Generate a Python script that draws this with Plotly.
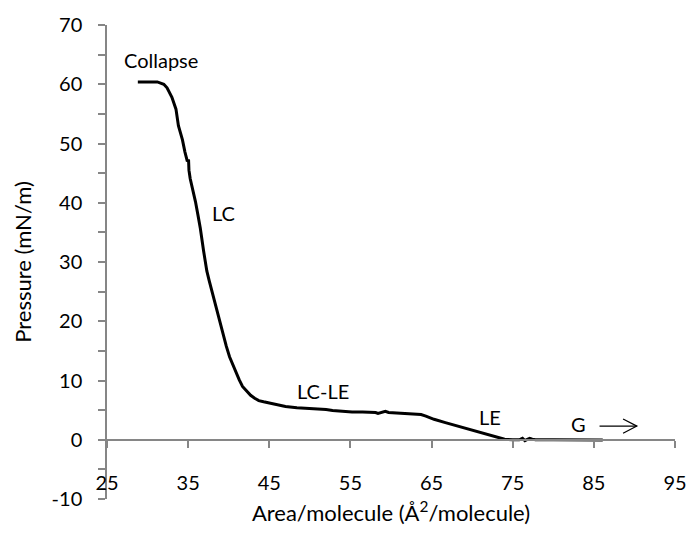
import plotly.graph_objects as go

area = [28.8, 31.2, 32.0, 32.4, 33.0, 33.5, 33.8, 34.3, 34.6, 34.9, 35.05, 35.1, 35.25, 35.6,
        35.9, 36.2, 36.5, 36.9, 37.3, 37.6, 37.9, 38.3, 38.7, 39.3, 39.7, 40.1, 40.5, 40.9,
        41.3, 41.7, 42.2, 42.7, 43.2, 43.7, 44.3, 44.9, 45.9, 47.0, 48.4, 50.0, 51.2, 52.0,
        52.8, 54.0, 55.2, 56.5, 57.6, 58.1, 58.4, 58.8, 59.3, 59.7, 61.0, 62.9, 63.7, 64.3,
        65.3, 66.7, 68.1, 69.2, 70.2, 71.2, 72.2, 73.1, 74.0, 75.0, 75.8, 76.2, 76.5, 76.8,
        77.1, 77.4, 77.8, 80.0, 83.0, 86.1]
pressure = [60.4, 60.4, 60.0, 59.4, 57.8, 55.8, 53.0, 50.6, 48.6, 47.0, 47.3, 45.5, 44.1, 42.2,
            40.2, 38.0, 35.7, 31.9, 28.5, 26.8, 25.2, 22.8, 20.7, 17.7, 15.8, 14.0, 12.6, 11.3,
            10.1, 9.0, 8.2, 7.5, 7.0, 6.6, 6.4, 6.2, 5.85, 5.6, 5.4, 5.3, 5.2, 5.1,
            4.95, 4.8, 4.7, 4.7, 4.7, 4.6, 4.45, 4.6, 4.8, 4.6, 4.5, 4.4, 4.25, 4.0,
            3.45, 2.9, 2.35, 1.9, 1.5, 1.15, 0.8, 0.45, 0.1, 0.0, 0.0, 0.25, -0.15, 0.05,
            0.25, 0.1, 0.0, 0.0, -0.05, -0.05]

y_tick_vals = [-10, 0, 10, 20, 30, 40, 50, 60, 70]
y_tick_text = ["-10", "0", "10", "20", "30", "40", "50", "60", "70"]

phase_labels = ["Collapse", "LC", "LC-LE", "LE", "G"]
phase_x = [31.6, 39.4, 51.6, 72.2, 83.1]
phase_y = [64.1, 38.2, 8.2, 3.9, 2.6]

FONT = "Lato, Carlito, Calibri, sans-serif"
AXIS_COLOR = "#868686"

fig = go.Figure()
fig.add_trace(go.Scatter(x=area, y=pressure, mode="lines",
                         line=dict(color="black", width=3), showlegend=False,
                         hoverinfo="skip"))

annotations = []
for t, x, y in zip(phase_labels, phase_x, phase_y):
    annotations.append(dict(x=x, y=y, text=t, showarrow=False,
                            font=dict(family=FONT, size=20, color="black")))

# arrow pointing right next to "G"
shapes = [
    dict(type="line", x0=85.7, y0=2.3, x1=90.3, y1=2.3, line=dict(color="black", width=1.2)),
    dict(type="path", path="M 88.6,3.5 L 90.3,2.3 L 88.6,1.1", line=dict(color="black", width=1.2)),
]

fig.update_layout(
    width=699, height=533,
    margin=dict(l=107, r=14, t=22, b=32),
    paper_bgcolor="white", plot_bgcolor="white",
    font=dict(family=FONT, size=20, color="black"),
    annotations=annotations,
    shapes=shapes,
    xaxis=dict(
        range=[25, 95], dtick=10, tick0=25,
        showgrid=False, zeroline=False,
        showline=True, linecolor=AXIS_COLOR, linewidth=1.5,
        ticks="outside", ticklen=7, tickcolor=AXIS_COLOR, tickwidth=1.5,
        anchor="free", position=0.125,
        ticklabelstandoff=18,
        title=dict(text="Area/molecule (Å<sup>2</sup>/molecule)",
                   font=dict(family=FONT, size=22), standoff=12),
        tickfont=dict(family=FONT, size=20),
    ),
    yaxis=dict(
        range=[-10, 70], tickvals=y_tick_vals, ticktext=y_tick_text,
        showgrid=False, zeroline=False,
        showline=True, linecolor=AXIS_COLOR, linewidth=1.5,
        ticks="outside", ticklen=7, tickcolor=AXIS_COLOR, tickwidth=1.5,
        minor=dict(dtick=5, ticks="outside", ticklen=7, tickcolor=AXIS_COLOR, tickwidth=1.5,
                   showgrid=False),
        ticklabelstandoff=12,
        title=dict(text="Pressure (mN/m)", font=dict(family=FONT, size=22), standoff=14),
        tickfont=dict(family=FONT, size=20),
    ),
)

fig.write_html("out.html")
